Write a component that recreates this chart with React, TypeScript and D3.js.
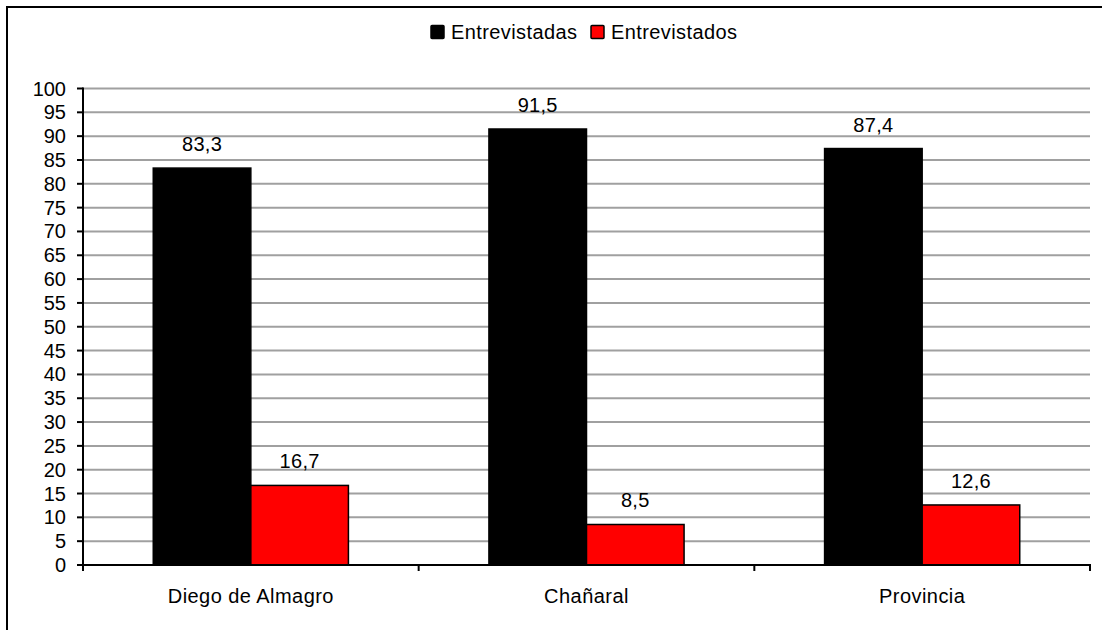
import React from "react";
import * as d3 from "d3";

const categories = ["Diego de Almagro", "Chañaral", "Provincia"];
const seriesNames = ["Entrevistadas", "Entrevistados"];
const entrevistadas = [83.3, 91.5, 87.4];
const entrevistados = [16.7, 8.5, 12.6];
const yTicks = d3.range(0, 101, 5);
const colors = ["#000000", "#ff0000"];

const W = 1102;
const H = 630;
const FONT = "Arial, 'Liberation Sans', sans-serif";

export default function App() {
  const x0 = d3.scaleBand<string>().domain(categories).range([83, 1090]).padding(0);
  const x1 = d3
    .scaleBand<string>()
    .domain(seriesNames)
    .range([0, x0.bandwidth()])
    .paddingInner(0)
    .paddingOuter(0.72);
  const y = d3.scaleLinear().domain([0, 100]).range([565, 88.5]);
  const values = [entrevistadas, entrevistados];
  const fmt = (v: number) => v.toFixed(1).replace(".", ",");
  const boundaries = [...categories.map((c) => x0(c) as number), 1090];

  return (
    <svg
      width={W}
      height={H}
      style={{ position: "absolute", left: 0, top: 0, fontFamily: FONT }}
    >
      <rect x={0} y={0} width={W} height={H} fill="#fff" />
      <rect x={7} y={7} width={1110} height={640} fill="none" stroke="#000" strokeWidth={2} />

      {/* gridlines */}
      {yTicks.filter((t) => t > 0).map((t) => (
        <line key={"g" + t} x1={83} x2={1090} y1={y(t)} y2={y(t)} stroke="#a0a0a0" strokeWidth={2} />
      ))}

      {/* bars */}
      {categories.map((c, ci) =>
        seriesNames.map((s, si) => {
          const v = values[si][ci];
          const bx = (x0(c) as number) + (x1(s) as number);
          const by = y(v);
          return (
            <g key={c + s}>
              <rect
                x={bx}
                y={by}
                width={x1.bandwidth()}
                height={y(0) - by}
                fill={colors[si]}
                stroke="#000"
                strokeWidth={1.5}
              />
              <text
                x={bx + x1.bandwidth() / 2}
                y={by - 17}
                textAnchor="middle"
                fontSize={20}
                letterSpacing={0.3}
                fill="#000"
              >
                {fmt(v)}
              </text>
            </g>
          );
        })
      )}

      {/* y axis */}
      <line x1={83} x2={83} y1={y(100) - 1} y2={y(0) + 1} stroke="#000" strokeWidth={2} />
      {yTicks.map((t) => (
        <g key={"yt" + t}>
          <line x1={77} x2={83} y1={y(t)} y2={y(t)} stroke="#000" strokeWidth={2} />
          <text x={66} y={y(t)} dy="0.35em" textAnchor="end" fontSize={20} fill="#000">
            {t}
          </text>
        </g>
      ))}

      {/* x axis */}
      <line x1={82} x2={1091} y1={y(0)} y2={y(0)} stroke="#000" strokeWidth={2} />
      {boundaries.map((bx, i) => (
        <line key={"xt" + i} x1={bx} x2={bx} y1={y(0)} y2={y(0) + 6} stroke="#000" strokeWidth={2} />
      ))}
      {categories.map((c) => (
        <text
          key={"xl" + c}
          x={(x0(c) as number) + x0.bandwidth() / 2}
          y={602.5}
          textAnchor="middle"
          fontSize={20}
          letterSpacing={0.45}
          fill="#000"
        >
          {c}
        </text>
      ))}

      {/* legend */}
      {seriesNames.map((s, i) => {
        const lx = i === 0 ? 431 : 591;
        return (
          <g key={"lg" + s}>
            <rect x={lx} y={25.5} width={13} height={13} rx={1} fill={colors[i]} stroke="#000" strokeWidth={1.5} />
            <text x={lx + 20} y={39.3} fontSize={20} letterSpacing={0.4} fill="#000">
              {s}
            </text>
          </g>
        );
      })}
    </svg>
  );
}
